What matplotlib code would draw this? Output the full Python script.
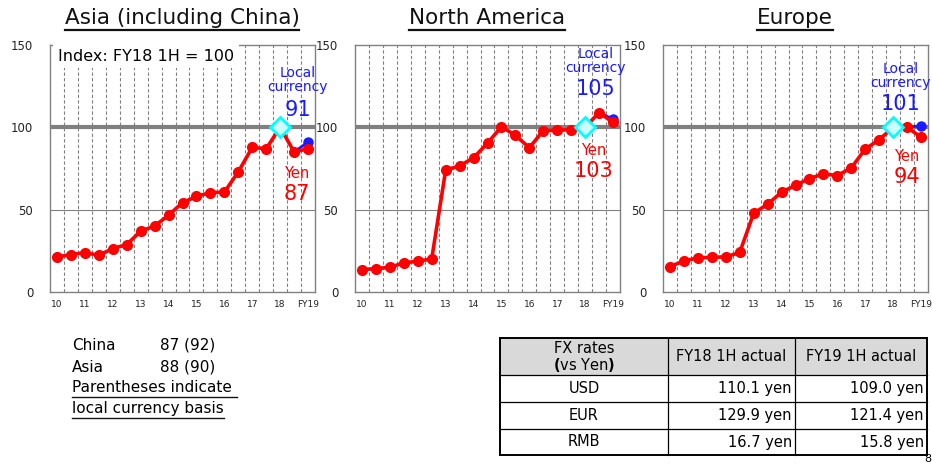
import numpy as np
import matplotlib.pyplot as plt

plt.rcParams['font.family'] = ['DejaVu Sans']
plt.rcParams['mathtext.fontset'] = 'dejavusans'

# half-year periods FY10 1H .. FY19 1H, index FY18 1H = 100
year_labels = ['10', '11', '12', '13', '14', '15', '16', '17', '18', 'FY19']

asia_yen = [21.3, 22.7, 23.9, 22.3, 26.4, 28.8, 36.9, 40.1, 46.6, 54.3,
            58.0, 60.4, 60.6, 73.0, 87.8, 87.0, 100, 85.1, 87]
asia_local = 91
na_yen = [13.6, 14.2, 15.0, 17.7, 18.7, 20.1, 74.0, 76.6, 81.5, 90.4,
          100.4, 95.1, 87.6, 98.0, 98.2, 98.6, 100, 109.0, 103]
na_local = 105
eu_yen = [15.4, 18.9, 20.7, 21.1, 21.3, 24.0, 47.8, 53.3, 60.6, 64.8,
          68.9, 71.7, 70.7, 75.4, 86.8, 92.5, 100, 100.0, 94]
eu_local = 101

region_names = ['China', 'Asia']
region_yen = [87, 88]
region_local = [92, 90]

currencies = ['USD', 'EUR', 'RMB']
fy18_rates = [110.1, 129.9, 16.7]
fy19_rates = [109.0, 121.4, 15.8]

RED = '#ff0000'
BLUE = '#1a1aff'
GRAY = '#808080'

W, H = 932, 466
fig = plt.figure(figsize=(W / 100, H / 100), dpi=100)

# overlay axes in pixel units for free text / table
ov = fig.add_axes([0, 0, 1, 1])
ov.set_xlim(0, W)
ov.set_ylim(H, 0)
ov.axis('off')

panels = [
    dict(title='Asia (including China)', yen=asia_yen, local=asia_local, left=50,
         lx=17.26, ly=128.7, nly=110.5, yx=17.2, yy=72.2, nyy=59.4, box=True),
    dict(title='North America', yen=na_yen, local=na_local, left=355,
         lx=16.75, ly=140.5, nly=123.1, yx=16.6, yy=86.2, nyy=73.4, box=False),
    dict(title='Europe', yen=eu_yen, local=eu_local, left=663,
         lx=16.55, ly=131.0, nly=114.1, yx=17.0, yy=82.5, nyy=69.9, box=False),
]

titles = []
for p in panels:
    ax = fig.add_axes([p['left'] / W, 1 - 292 / H, 265 / W, 247 / H])
    n = len(p['yen'])
    x = np.arange(n)
    ax.set_xlim(-0.5, n - 0.5)
    ax.set_ylim(0, 150)
    for s in ax.spines.values():
        s.set_color(GRAY)
        s.set_linewidth(1.0)
    for xv in np.arange(0.5, n - 1, 1.0):
        ax.axvline(xv, color=GRAY, lw=0.8, ls=(0, (3, 2)), zorder=1)
    ax.axhline(50, color=GRAY, lw=0.8, zorder=1)
    ax.axhline(100, color=GRAY, lw=3, zorder=2)
    ax.set_yticks([0, 50, 100, 150])
    ax.set_xticks(np.arange(0, n, 2))
    ax.set_xticklabels(year_labels)
    ax.tick_params(axis='y', length=0, pad=12, labelsize=8.5, colors='#222222')
    ax.tick_params(axis='x', length=0, pad=6, labelsize=6.5, colors='#222222')

    if p['box']:
        ax.text(0.03, 0.955, 'Index: FY18 1H = 100', transform=ax.transAxes,
                fontsize=11.5, va='center', ha='left', zorder=5,
                bbox=dict(boxstyle='square,pad=0.3', fc='white', ec='none'))

    # local currency segment from FY18 2H to FY19 1H
    ax.plot([n - 2, n - 1], [p['yen'][-2], p['local']], color=BLUE, lw=2,
            marker='o', ms=6.5, markevery=[1], zorder=3)
    ax.plot(x, p['yen'], color=RED, lw=2.6, marker='o', ms=7, zorder=4)
    base = n - 3
    ax.plot(base, p['yen'][base], marker='D', ms=10, mfc='#ccffff', mec='#00ffff',
            mew=2, zorder=6)

    ax.text(p['lx'], p['ly'], 'Local\ncurrency', color=BLUE, fontsize=10,
            ha='center', va='center', linespacing=1.0, clip_on=False, zorder=7)
    ax.text(p['lx'], p['nly'], f"{p['local']}", color=BLUE, fontsize=15,
            ha='center', va='center', clip_on=False, zorder=7)
    ax.text(p['yx'], p['yy'], 'Yen', color=RED, fontsize=10.5,
            ha='center', va='center', clip_on=False, zorder=7)
    ax.text(p['yx'], p['nyy'], f"{p['yen'][-1]}", color=RED, fontsize=15,
            ha='center', va='center', clip_on=False, zorder=7)

    t = ov.text(p['left'] + 132, 18, p['title'], fontsize=15.5, ha='center',
                va='center', color='#111111')
    titles.append(t)

# region summary under the charts
for i, (name, yv, lv) in enumerate(zip(region_names, region_yen, region_local)):
    ov.text(72, 345 + 22 * i, name, fontsize=11, va='center', ha='left')
    ov.text(160, 345 + 22 * i, f'{yv} ({lv})', fontsize=11, va='center', ha='left')
notes = [ov.text(72, 388, 'Parentheses indicate ', fontsize=11, va='center', ha='left'),
         ov.text(72, 409, 'local currency basis', fontsize=11, va='center', ha='left')]

# FX rate table
col_x = [500, 668, 795, 927]
row_y = [338, 375, 402, 429, 455]
ov.add_patch(plt.Rectangle((col_x[0], row_y[0]), col_x[-1] - col_x[0],
                           row_y[1] - row_y[0], fc='#d9d9d9', ec='none'))
for yv in row_y:
    lw = 1.4 if yv in (row_y[0], row_y[-1]) else 0.9
    ov.plot([col_x[0], col_x[-1]], [yv, yv], color='black', lw=lw)
for xv in col_x:
    lw = 1.4 if xv in (col_x[0], col_x[-1]) else 0.9
    ov.plot([xv, xv], [row_y[0], row_y[-1]], color='black', lw=lw)
c0 = (col_x[0] + col_x[1]) / 2
hy = (row_y[0] + row_y[1]) / 2
fs = 10.5
ov.text(c0, hy - 8, 'FX rates', fontsize=fs, ha='center', va='center')
ov.text(c0, hy + 8, r'$\mathbf{(}$vs Yen$\mathbf{)}$', fontsize=fs, ha='center', va='center')
ov.text((col_x[1] + col_x[2]) / 2, hy, 'FY18 1H actual', fontsize=fs, ha='center', va='center')
ov.text((col_x[2] + col_x[3]) / 2, hy, 'FY19 1H actual', fontsize=fs, ha='center', va='center')
for i, (cur, a, b) in enumerate(zip(currencies, fy18_rates, fy19_rates)):
    ry = (row_y[i + 1] + row_y[i + 2]) / 2
    ov.text(c0, ry, cur, fontsize=fs, ha='center', va='center')
    ov.text(col_x[2] - 3, ry, f'{a:.1f} yen', fontsize=fs, ha='right', va='center')
    ov.text(col_x[3] - 3, ry, f'{b:.1f} yen', fontsize=fs, ha='right', va='center')

# page number at the right edge
ov.text(931, 459, '8', fontsize=8, ha='right', va='center')

# underlines for titles and notes
fig.canvas.draw()
r = fig.canvas.get_renderer()
for t, off, lw in [(tt, 2, 1.6) for tt in titles] + [(nt, 1, 1.0) for nt in notes]:
    bb = t.get_window_extent(r)
    ov.plot([bb.x0, bb.x1], [H - bb.y0 + off, H - bb.y0 + off], color='#111111', lw=lw)

fig.savefig('out.png', dpi=100)
